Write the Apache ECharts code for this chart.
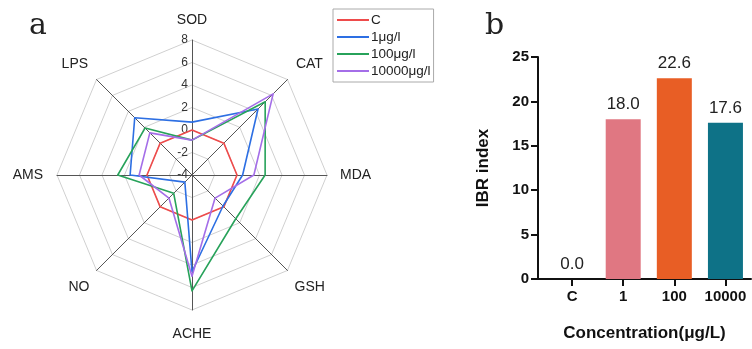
<!DOCTYPE html>
<html>
<head>
<meta charset="utf-8">
<script src="https://cdn.jsdelivr.net/npm/echarts@6/dist/echarts.min.js"></script>
<style>
  html, body { margin: 0; padding: 0; background: #fff; }
  #main { width: 752px; height: 349px; }
</style>
</head>
<body>
<div id="main"></div>
<script>
// radar indicators, in ECharts order (counter-clockwise from the top)
var indicatorNames = ['SOD', 'LPS', 'AMS', 'NO', 'ACHE', 'GSH', 'MDA', 'CAT'];
var indicatorGaps = [13, 12, 14, 10, 17, 10, 13, 12];
var radarMin = -4, radarMax = 8;

var groupNames = ['C', '1μg/l', '100μg/l', '10000μg/l'];
var groupColors = ['#ee4b4b', '#2d6fe3', '#27a25a', '#a46ee8'];
var valC     = [0, 0, 0, 0, 0, 0, 0, 0];
var val1     = [0.7, 3.2, 1.5, -3.1, 4.6, -0.1, 0.5, 4.3];
var val100   = [-0.9, 1.9, 2.6, -1.7, 6.3, 1.5, 2.5, 5.2];
var val10000 = [-0.9, 1.3, 0.7, -1.1, 5.0, -1.1, 1.5, 6.2];

// IBR bar chart
var concCats = ['C', '1', '100', '10000'];
var ibrValues = [0.0, 18.0, 22.6, 17.6];
var barColors = ['#e07782', '#e85e25', '#0e7287'];

var font = 'Liberation Sans';

var myChart = echarts.init(document.getElementById('main'));

var indicators = indicatorNames.map(function (n, i) {
  var ind = { name: n, min: radarMin, max: radarMax, nameGap: indicatorGaps[i] };
  if (i === 0) ind.axisLabel = { show: true };
  // diagonal names sit further above / below their axis ends
  if (n === 'LPS' || n === 'CAT') ind.nameTextStyle = { verticalAlign: 'bottom' };
  if (n === 'NO' || n === 'GSH') ind.nameTextStyle = { verticalAlign: 'top', padding: [3, 0, 0, 0] };
  return ind;
});

var radarSeries = [valC, val1, val100, val10000].map(function (v, i) {
  return {
    name: groupNames[i],
    value: v,
    lineStyle: { color: groupColors[i], width: 1.6 },
    itemStyle: { color: groupColors[i] }
  };
});

var barData = ibrValues.map(function (v, i) {
  return {
    value: [i, v],
    itemStyle: { color: i === 0 ? 'transparent' : barColors[i - 1] }
  };
});

var option = {
  animation: false,
  textStyle: { fontFamily: font },
  title: [
    { text: 'a', left: 24, top: 6, textStyle: { fontFamily: 'DejaVu Serif', fontSize: 30, fontWeight: 'normal', color: '#222' } },
    { text: 'b', left: 480, top: 6, textStyle: { fontFamily: 'DejaVu Serif', fontSize: 30, fontWeight: 'normal', color: '#222' } }
  ],
  legend: {
    data: groupNames,
    orient: 'vertical',
    left: 333,
    top: 9,
    padding: [4, 3, 4, 4],
    itemGap: 3,
    itemWidth: 32,
    itemHeight: 2,
    icon: 'rect',
    borderColor: '#aaa',
    borderWidth: 1,
    textStyle: { fontFamily: font, fontSize: 13.5, color: '#222', padding: [0, 0, 0, -3] }
  },
  radar: {
    center: [192, 175],
    radius: 135,
    startAngle: 90,
    splitNumber: 6,
    shape: 'polygon',
    indicator: indicators,
    axisName: { color: '#222', fontFamily: font, fontSize: 14 },
    axisLine: { lineStyle: { color: '#555', width: 1 } },
    splitLine: { lineStyle: { color: '#d0d0d0', width: 1 } },
    splitArea: { show: false },
    axisTick: { show: false },
    axisLabel: { show: false, color: '#333', fontSize: 12, margin: 4 }
  },
  grid: { left: 538, right: 1, top: 57, bottom: 70 },
  xAxis: {
    type: 'value',
    min: -0.667,
    max: 3.5,
    splitLine: { show: false },
    axisLine: { onZero: false, lineStyle: { color: '#111', width: 2 } },
    axisTick: { show: true, length: 7, lineStyle: { width: 2, color: '#111' }, customValues: [0, 1, 2, 3] },
    axisLabel: {
      customValues: [0, 1, 2, 3],
      formatter: function (v) { return concCats[Math.round(v)]; },
      color: '#111', fontWeight: 'bold', fontSize: 15, margin: 10
    },
    name: 'Concentration(μg/L)',
    nameLocation: 'middle',
    nameGap: 46,
    nameTextStyle: { color: '#111', fontWeight: 'bold', fontSize: 17 }
  },
  yAxis: {
    type: 'value',
    min: 0,
    max: 25,
    interval: 5,
    splitLine: { show: false },
    axisLine: { show: true, onZero: false, lineStyle: { color: '#111', width: 2 } },
    axisTick: { show: true, length: 7, lineStyle: { width: 2, color: '#111' } },
    axisLabel: { color: '#111', fontWeight: 'bold', fontSize: 15, margin: 9 },
    name: 'IBR index',
    nameLocation: 'middle',
    nameGap: 46,
    nameTextStyle: { color: '#111', fontWeight: 'bold', fontSize: 17 }
  },
  series: [
    {
      type: 'radar',
      symbol: 'none',
      data: radarSeries
    },
    {
      type: 'bar',
      barWidth: 35,
      data: barData,
      label: {
        show: true,
        position: 'top',
        distance: 6,
        color: '#222',
        fontSize: 17,
        formatter: function (p) { return p.value[1].toFixed(1); }
      }
    }
  ]
};
myChart.setOption(option);
</script>
</body>
</html>
